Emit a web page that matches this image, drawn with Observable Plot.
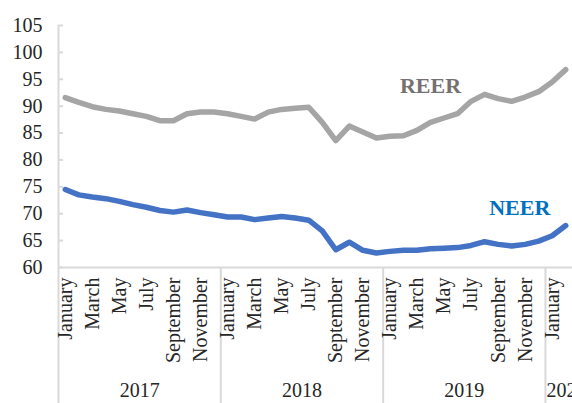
<!DOCTYPE html>
<html>
<head>
<meta charset="utf-8">
<script src="https://cdn.jsdelivr.net/npm/d3@7"></script>
<script src="https://cdn.jsdelivr.net/npm/@observablehq/plot@0.6"></script>
<style>
  html, body { margin: 0; padding: 0; background: #fff; }
  #chart svg { display: block; }
</style>
</head>
<body>
<div id="chart"></div>
<script>
// ---- data ----
const years = [2017, 2018, 2019, 2020];
const monthNames = ["January","February","March","April","May","June","July","August","September","October","November","December"];
const nMonths = 38; // January 2017 – February 2020
const reer = [91.6, 90.7, 89.9, 89.4, 89.1, 88.6, 88.1, 87.3, 87.3, 88.6,
              88.9, 88.9, 88.6, 88.1, 87.6, 88.9, 89.4, 89.6, 89.8, 87.0,
              83.6, 86.3, 85.2, 84.1, 84.4, 84.5, 85.5, 87.0, 87.8, 88.6,
              90.9, 92.2, 91.4, 90.9, 91.7, 92.7, 94.5, 96.8];
const neer = [74.5, 73.5, 73.1, 72.8, 72.3, 71.7, 71.2, 70.6, 70.3, 70.7,
              70.2, 69.8, 69.4, 69.4, 68.9, 69.2, 69.5, 69.2, 68.8, 66.8,
              63.3, 64.7, 63.2, 62.7, 63.0, 63.2, 63.2, 63.5, 63.6, 63.7,
              64.1, 64.8, 64.3, 64.0, 64.3, 64.9, 65.9, 67.8];
const yTicks = [60, 65, 70, 75, 80, 85, 90, 95, 100, 105];
const seriesLabels = [
  {name: "REER", idx: 27.0, value: 93.7, color: "#767171"},
  {name: "NEER", idx: 33.6, value: 71.0, color: "#0070C0"}
];

// ---- derived tables ----
const periods = d3.range(nMonths).map(i => ({
  i,
  year: years[Math.floor(i / 12)],
  month: monthNames[i % 12]
}));
const rows = [];
periods.forEach((p, k) => {
  rows.push({i: p.i, series: "REER", value: reer[k]});
  rows.push({i: p.i, series: "NEER", value: neer[k]});
});
const monthTicks = periods.filter(p => p.i % 2 === 0);
const yearStarts = periods.filter(p => p.i % 12 === 0);
const yearGroups = years.map(y => {
  const ps = periods.filter(p => p.year === y);
  return {year: y, first: ps[0].i, last: ps[ps.length - 1].i, full: ps.length === 12};
});
const xMin = -0.5, xMax = nMonths - 0.5;
const yMin = 60, yMax = 105;
const axisColor = "#d9d9d9";
const textColor = "#262626";

const chart = Plot.plot({
  width: 572,
  height: 403,
  marginLeft: 58,
  marginRight: 0,
  marginTop: 25,
  marginBottom: 136,
  style: {fontFamily: "'Liberation Serif', 'Times New Roman', serif", fontSize: "20px", color: textColor, background: "#fff"},
  x: {type: "linear", domain: [xMin, xMax], axis: null, label: null},
  y: {domain: [yMin, yMax], axis: null, label: null},
  marks: [
    // axes lines
    Plot.ruleX([xMin], {stroke: axisColor, strokeWidth: 2}),
    Plot.ruleY([yMin], {stroke: axisColor, strokeWidth: 2}),
    // inward y ticks
    Plot.ruleY(yTicks, {y: d => d, x1: xMin, x2: xMin, insetRight: -5, stroke: axisColor, strokeWidth: 2}),
    // year separators below the axis
    Plot.ruleX(yearStarts, {x: p => p.i - 0.5, y1: yMin, y2: yMin, insetBottom: -136, stroke: axisColor, strokeWidth: 2}),
    // y tick labels
    Plot.axisY({ticks: yTicks, label: null, tickSize: 0, tickPadding: 16, tickFormat: d => String(d), fill: textColor, fontSize: 20}),
    // month labels (rotated)
    Plot.text(monthTicks, {x: "i", text: "month", frameAnchor: "bottom", rotate: -90, textAnchor: "end", lineAnchor: "middle", dy: 10, fill: textColor, fontSize: 20}),
    // year labels
    Plot.text(yearGroups.filter(g => g.full), {x: g => (g.first + g.last) / 2, text: g => String(g.year), frameAnchor: "bottom", dy: 129, fill: textColor, fontSize: 20}),
    Plot.text(yearGroups.filter(g => !g.full), {x: g => g.first - 0.5, text: g => String(g.year), frameAnchor: "bottom", textAnchor: "start", dx: 1, dy: 129, fill: textColor, fontSize: 20}),
    // lines
    Plot.line(rows.filter(r => r.series === "REER"), {x: "i", y: "value", stroke: "#A5A5A5", strokeWidth: 5.5, strokeLinejoin: "round", strokeLinecap: "round"}),
    Plot.line(rows.filter(r => r.series === "NEER"), {x: "i", y: "value", stroke: "#4472C4", strokeWidth: 5.5, strokeLinejoin: "round", strokeLinecap: "round"}),
    // series labels
    Plot.text(seriesLabels, {x: "idx", y: "value", text: "name", fill: "color", fontWeight: "bold", fontSize: 22})
  ]
});
document.getElementById("chart").appendChild(chart);
</script>
</body>
</html>
